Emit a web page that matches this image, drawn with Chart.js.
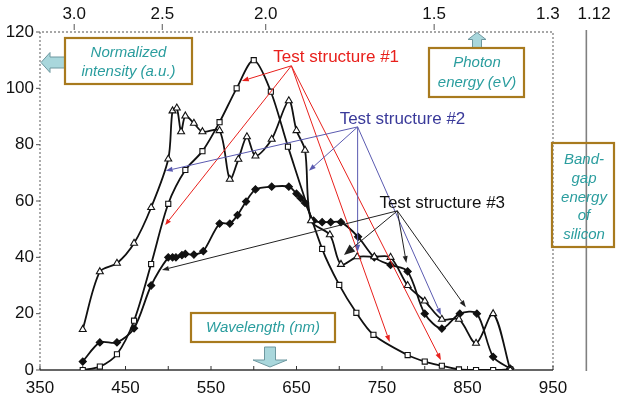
<!DOCTYPE html>
<html><head><meta charset="utf-8">
<script src="https://cdn.jsdelivr.net/npm/chart.js@4/dist/chart.umd.min.js"></script>
<style>html,body{margin:0;padding:0;background:#fff}#wrap{width:617px;height:406px;position:relative}</style>
</head><body><div id="wrap"><canvas id="c" width="617" height="406"></canvas></div>
<script>
// ---- axis labels ----
const xTickLabels = [350, 450, 550, 650, 750, 850, 950];
const yTickLabels = [0, 20, 40, 60, 80, 100, 120];
const topTickLabels = ['3.0', '2.5', '2.0', '1.5', '1.3', '1.12'];
const topTickNm = [390, 493, 614, 811, 944, 998];   // where each photon-energy label sits on the wavelength axis
const bandGapNm = 989;                                // 1.12 eV band-gap marker line

// ---- Test structure #1 (open squares) ----
const s1Nm  = [400, 420, 440, 460, 480, 500, 520, 540, 560, 580, 600, 620, 640, 680, 700, 720, 740, 780, 800, 820, 840, 860, 880, 900];
const s1Val = [0, 1.2, 5.6, 17.5, 37.6, 59, 71, 77.7, 88, 100, 110, 98.8, 79.3, 43, 30.2, 20.3, 12.5, 5.3, 3, 1.5, 0.2, 0, 0, 0.2];

// ---- Test structure #2 (open triangles) ----
const s2Nm  = [400, 420, 440, 460, 480, 500, 505, 510, 515, 520, 530, 540, 560, 572, 582, 592, 602, 621, 641, 650, 660, 667, 689, 702, 721, 741, 760, 780, 800, 820, 840, 860, 880, 900];
const s2Val = [14.4, 34.9, 37.9, 45, 57.7, 74.9, 92, 93, 84.6, 90.2, 87.6, 84.6, 85, 67.7, 74.8, 82.8, 76, 81.9, 95.6, 85, 78, 53, 48, 37.5, 40.2, 40.2, 40, 30, 24.5, 18, 18, 9.5, 20, 0];

// ---- Test structure #3 (filled diamonds) ----
const s3Nm  = [400, 420, 440, 460, 480, 500, 505, 509, 516, 520, 530, 541, 560, 572, 581, 591, 602, 621, 641, 650, 655, 660, 670, 680, 690, 702, 722, 741, 760, 780, 800, 820, 841, 861, 880, 900];
const s3Val = [3, 9.8, 9.8, 14.8, 30, 40, 40, 40, 40.8, 41.2, 41, 42.2, 52, 52, 55, 59.8, 64.1, 65.1, 65.1, 62.6, 61, 59.3, 53, 52.5, 52.5, 52.5, 47.3, 40, 37.3, 35, 20, 14.7, 20, 20, 4.7, 0.5];

// ---- callout arrows (wavelength nm, intensity) ----
const ts1Label = 'Test structure #1';
const ts1Origin = [644, 108];
const ts1TargetNm = [586, 496.5, 759, 819];
const ts1TargetVal = [102.6, 51.5, 9.9, 3.5];

const ts2Label = 'Test structure #2';
const ts2Origin = [721.5, 86.3];
const ts2TargetNm = [497, 664.5, 721.5, 819];
const ts2TargetVal = [70.7, 70.7, 42, 19.5];

const ts3Label = 'Test structure #3';
const ts3Origin = [768, 56.5];
const ts3TargetNm = [492.6, 705.5, 778.5, 848];
const ts3TargetVal = [35.5, 40.8, 38, 22.3];

const FONT = '"Liberation Sans", Arial, Helvetica, sans-serif';
const pairs = (xs, ys) => xs.map((x, i) => ({x, y: ys[i]}));

function arrowLine(ctx, x1, y1, x2, y2, color, lw, hl, hw) {
  ctx.save();
  ctx.strokeStyle = color; ctx.fillStyle = color; ctx.lineWidth = lw;
  const a = Math.atan2(y2 - y1, x2 - x1);
  const bx = x2 - hl * Math.cos(a), by = y2 - hl * Math.sin(a);
  ctx.beginPath(); ctx.moveTo(x1, y1); ctx.lineTo(bx, by); ctx.stroke();
  ctx.beginPath(); ctx.moveTo(x2, y2);
  ctx.lineTo(bx + hw / 2 * Math.sin(a), by - hw / 2 * Math.cos(a));
  ctx.lineTo(bx - hw / 2 * Math.sin(a), by + hw / 2 * Math.cos(a));
  ctx.closePath(); ctx.fill();
  ctx.restore();
}

function fatArrow(ctx, tx, ty, dx, dy, len, bodyW, headW, headL) {
  const nx = -dy, ny = dx;
  const hx = tx - dx * headL, hy = ty - dy * headL;
  const ex = tx - dx * len, ey = ty - dy * len;
  ctx.save();
  ctx.beginPath();
  ctx.moveTo(tx, ty);
  ctx.lineTo(hx + nx * headW / 2, hy + ny * headW / 2);
  ctx.lineTo(hx + nx * bodyW / 2, hy + ny * bodyW / 2);
  ctx.lineTo(ex + nx * bodyW / 2, ey + ny * bodyW / 2);
  ctx.lineTo(ex - nx * bodyW / 2, ey - ny * bodyW / 2);
  ctx.lineTo(hx - nx * bodyW / 2, hy - ny * bodyW / 2);
  ctx.lineTo(hx - nx * headW / 2, hy - ny * headW / 2);
  ctx.closePath();
  ctx.fillStyle = '#a9d7dc'; ctx.fill();
  ctx.strokeStyle = '#6e98a0'; ctx.lineWidth = 1; ctx.stroke();
  ctx.restore();
}

function textBox(ctx, x1, y1, x2, y2, lines, cx, ys, fill) {
  ctx.save();
  if (fill) { ctx.fillStyle = '#fff'; ctx.fillRect(x1, y1, x2 - x1, y2 - y1); }
  ctx.strokeStyle = '#a87a1e'; ctx.lineWidth = 2.2;
  ctx.strokeRect(x1, y1, x2 - x1, y2 - y1);
  ctx.fillStyle = '#2a9d9e';
  ctx.font = 'italic 15px ' + FONT;
  ctx.textAlign = 'center'; ctx.textBaseline = 'middle';
  lines.forEach((t, i) => ctx.fillText(t, cx, ys[i]));
  ctx.restore();
}

const framePlugin = {
  id: 'frame',
  beforeDatasetsDraw(chart) {
    const {ctx, chartArea: a, scales: {x, y}} = chart;
    ctx.save();
    ctx.strokeStyle = '#8a8a8a'; ctx.lineWidth = 1.4; ctx.setLineDash([2, 2]);
    ctx.beginPath();
    ctx.moveTo(a.left, a.bottom); ctx.lineTo(a.left, a.top);
    ctx.lineTo(a.right, a.top); ctx.lineTo(a.right, a.bottom);
    ctx.stroke();
    ctx.setLineDash([]);
    ctx.strokeStyle = '#333'; ctx.lineWidth = 1.3;
    ctx.beginPath(); ctx.moveTo(a.left, a.bottom); ctx.lineTo(a.right, a.bottom); ctx.stroke();
    ctx.lineWidth = 1;
    x.ticks.forEach(t => {
      const p = x.getPixelForValue(t.value);
      ctx.beginPath(); ctx.moveTo(p, a.bottom); ctx.lineTo(p, a.bottom - 4); ctx.stroke();
    });
    ctx.strokeStyle = '#555';
    y.ticks.forEach(t => {
      const p = y.getPixelForValue(t.value);
      ctx.beginPath(); ctx.moveTo(a.left - 4, p); ctx.lineTo(a.left, p); ctx.stroke();
    });
    ctx.fillStyle = '#111'; ctx.font = '17px ' + FONT;
    ctx.textAlign = 'center'; ctx.textBaseline = 'middle';
    topTickLabels.forEach((lab, i) => {
      const p = x.getPixelForValue(topTickNm[i]);
      ctx.fillText(lab, p, 14);
      if (i < 4) {
        ctx.strokeStyle = '#555';
        ctx.beginPath(); ctx.moveTo(p, a.top - 8); ctx.lineTo(p, a.top - 2); ctx.stroke();
      }
    });
    const bg = x.getPixelForValue(bandGapNm);
    ctx.strokeStyle = '#808080'; ctx.lineWidth = 1.6;
    ctx.beginPath(); ctx.moveTo(bg, a.top - 2); ctx.lineTo(bg, a.bottom + 1); ctx.stroke();
    ctx.restore();
  },
  afterDatasetsDraw(chart) {
    const {ctx, scales: {x, y}} = chart;
    const groups = [
      [ts1Label, ts1Origin, ts1TargetNm, ts1TargetVal, '#e8201c', '#e8201c', [7, 6, 7, 7]],
      [ts2Label, ts2Origin, ts2TargetNm, ts2TargetVal, '#3a3a9a', '#5a5ab0', [7, 7, 7, 7]],
      [ts3Label, ts3Origin, ts3TargetNm, ts3TargetVal, '#111', '#222', [7, 11, 7, 7]]
    ];
    groups.forEach(([label, o, tn, tv, tcol, lcol, hls]) => {
      const ox = x.getPixelForValue(o[0]), oy = y.getPixelForValue(o[1]);
      tn.forEach((n, i) => {
        const big = hls[i] > 8;
        arrowLine(ctx, ox, oy, x.getPixelForValue(n), y.getPixelForValue(tv[i]), lcol, 1, hls[i], big ? 9 : 5);
      });
      ctx.save();
      ctx.fillStyle = tcol; ctx.font = '17px ' + FONT;
      ctx.textAlign = 'left'; ctx.textBaseline = 'middle';
      ctx.fillText(label, ox - 18, oy - 8);
      ctx.restore();
    });
    fatArrow(ctx, 41, 62.5, -1, 0, 24, 11, 20, 9);
    textBox(ctx, 65, 38, 192, 84, ['Normalized', 'intensity (a.u.)'], 128.5, [53, 72], true);
    fatArrow(ctx, 477, 32.5, 0, -1, 16, 9, 18, 7);
    textBox(ctx, 429, 48, 524, 97, ['Photon', 'energy (eV)'], 477, [63, 83], true);
    fatArrow(ctx, 270, 367, 0, 1, 20, 11, 34, 7);
    textBox(ctx, 191, 313, 335, 342, ['Wavelength (nm)'], 263, [327.5], true);
    textBox(ctx, 552, 143, 614, 247, ['Band-', 'gap', 'energy', 'of', 'silicon'], 584, [160, 179, 197.5, 216, 235], false);
  }
};

const common = {borderColor: '#111', borderWidth: 1.8, tension: 0.3, pointBorderColor: '#111', pointBorderWidth: 1.1};

new Chart(document.getElementById('c'), {
  type: 'line',
  data: {
    datasets: [
      Object.assign({label: ts2Label, data: pairs(s2Nm, s2Val), pointStyle: 'triangle', pointRadius: 4, pointBackgroundColor: '#fff'}, common),
      Object.assign({label: ts1Label, data: pairs(s1Nm, s1Val), pointStyle: 'rect', pointRadius: 3.6, pointBackgroundColor: '#fff'}, common),
      Object.assign({label: ts3Label, data: pairs(s3Nm, s3Val), pointStyle: 'rectRot', pointRadius: 3.6, pointBackgroundColor: '#111'}, common)
    ]
  },
  options: {
    responsive: false, animation: false, devicePixelRatio: 1,
    layout: {padding: {top: 32, right: 64, left: 0, bottom: 0}},
    plugins: {legend: {display: false}, tooltip: {enabled: false}},
    scales: {
      x: {
        type: 'linear', min: 350, max: 950,
        afterFit: s => { s.height = 36; },
        grid: {display: false, drawTicks: false}, border: {display: false},
        ticks: {stepSize: 50, padding: 8, color: '#111', font: {size: 17, family: FONT}, maxRotation: 0, autoSkip: false,
          callback: v => xTickLabels.includes(v) ? String(v) : ''}
      },
      y: {
        min: 0, max: 120,
        afterFit: s => { s.width = 40; },
        grid: {display: false, drawTicks: false}, border: {display: false},
        ticks: {stepSize: 20, padding: 6, color: '#111', font: {size: 17, family: FONT},
          callback: v => yTickLabels.includes(v) ? String(v) : ''}
      }
    }
  },
  plugins: [framePlugin]
});
</script></body></html>
